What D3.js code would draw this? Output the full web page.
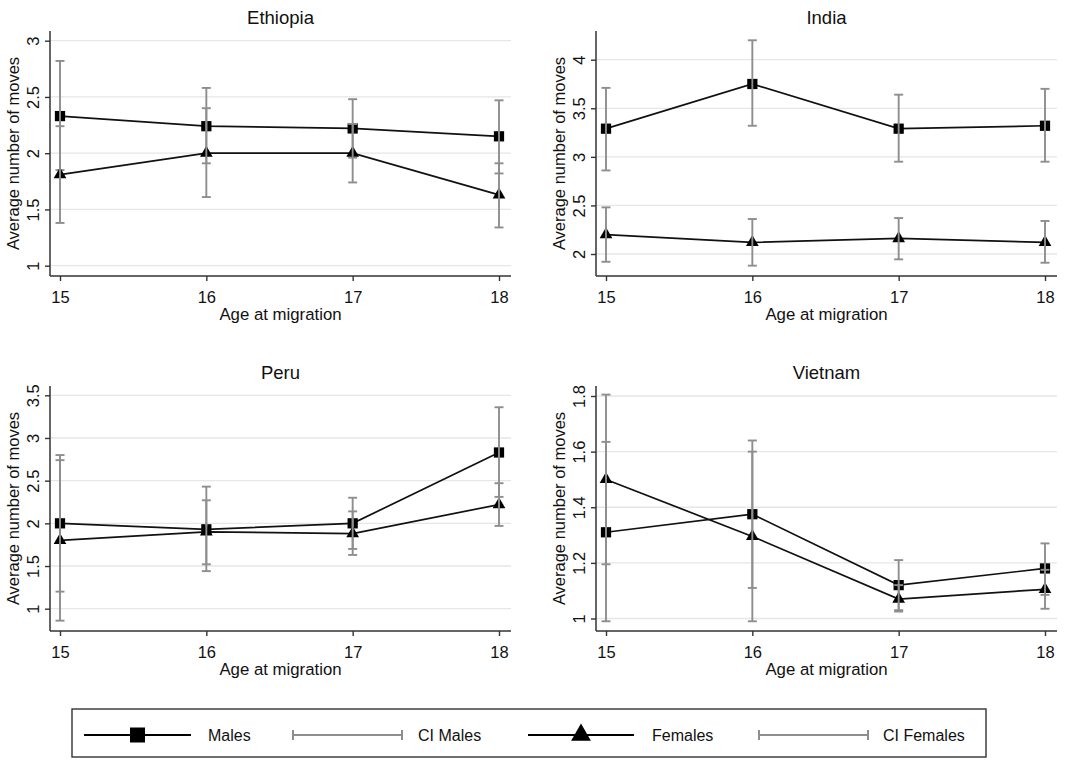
<!DOCTYPE html>
<html>
<head>
<meta charset="utf-8">
<script src="https://cdn.jsdelivr.net/npm/d3@7"></script>
<style>
  html, body { margin: 0; padding: 0; background: #fff; }
  svg { display: block; font-family: "Liberation Sans", Arial, sans-serif; }
</style>
</head>
<body>
<svg id="chart" width="1067" height="760"></svg>
<script>
// ---------------- DATA ----------------
const ages = [15, 16, 17, 18];
const countries = ["Ethiopia", "India", "Peru", "Vietnam"];

const ethiopiaMales     = [2.33, 2.24, 2.22, 2.15];
const ethiopiaMalesLo   = [1.85, 1.91, 1.96, 1.82];
const ethiopiaMalesHi   = [2.82, 2.58, 2.48, 2.47];
const ethiopiaFemales   = [1.81, 2.00, 2.00, 1.63];
const ethiopiaFemalesLo = [1.38, 1.61, 1.74, 1.34];
const ethiopiaFemalesHi = [2.24, 2.40, 2.26, 1.91];
const ethiopiaTicks     = [1, 1.5, 2, 2.5, 3];

const indiaMales     = [3.29, 3.75, 3.29, 3.32];
const indiaMalesLo   = [2.86, 3.32, 2.95, 2.95];
const indiaMalesHi   = [3.71, 4.20, 3.64, 3.70];
const indiaFemales   = [2.20, 2.12, 2.16, 2.12];
const indiaFemalesLo = [1.92, 1.88, 1.945, 1.91];
const indiaFemalesHi = [2.48, 2.36, 2.37, 2.34];
const indiaTicks     = [2, 2.5, 3, 3.5, 4];

const peruMales     = [2.00, 1.93, 2.00, 2.83];
const peruMalesLo   = [1.20, 1.44, 1.70, 2.31];
const peruMalesHi   = [2.80, 2.43, 2.30, 3.36];
const peruFemales   = [1.80, 1.90, 1.88, 2.22];
const peruFemalesLo = [0.86, 1.52, 1.63, 1.97];
const peruFemalesHi = [2.74, 2.27, 2.14, 2.47];
const peruTicks     = [1, 1.5, 2, 2.5, 3, 3.5];

const vietnamMales     = [1.31, 1.375, 1.12, 1.18];
const vietnamMalesLo   = [0.99, 1.11, 1.03, 1.085];
const vietnamMalesHi   = [1.635, 1.64, 1.21, 1.27];
const vietnamFemales   = [1.50, 1.295, 1.07, 1.105];
const vietnamFemalesLo = [1.195, 0.99, 1.025, 1.035];
const vietnamFemalesHi = [1.805, 1.60, 1.12, 1.175];
const vietnamTicks     = [1, 1.2, 1.4, 1.6, 1.8];

const legendLabels = ["Males", "CI Males", "Females", "CI Females"];
const xLabel = "Age at migration";
const yLabel = "Average number of moves";

// ---------------- LAYOUT ----------------
const panels = [
  { name: countries[0], males: ethiopiaMales, mLo: ethiopiaMalesLo, mHi: ethiopiaMalesHi,
    females: ethiopiaFemales, fLo: ethiopiaFemalesLo, fHi: ethiopiaFemalesHi, ticks: ethiopiaTicks,
    axisX: 50, right: 511, x0: 60, x1: 499, top: 31, bottom: 276, yPix: [265.7, 40.7] },
  { name: countries[1], males: indiaMales, mLo: indiaMalesLo, mHi: indiaMalesHi,
    females: indiaFemales, fLo: indiaFemalesLo, fHi: indiaFemalesHi, ticks: indiaTicks,
    axisX: 596, right: 1057, x0: 606, x1: 1045, top: 31, bottom: 276, yPix: [254, 59.7] },
  { name: countries[2], males: peruMales, mLo: peruMalesLo, mHi: peruMalesHi,
    females: peruFemales, fLo: peruFemalesLo, fHi: peruFemalesHi, ticks: peruTicks,
    axisX: 50, right: 511, x0: 60, x1: 499, top: 386, bottom: 631, yPix: [608.7, 395.3] },
  { name: countries[3], males: vietnamMales, mLo: vietnamMalesLo, mHi: vietnamMalesHi,
    females: vietnamFemales, fLo: vietnamFemalesLo, fHi: vietnamFemalesHi, ticks: vietnamTicks,
    axisX: 596, right: 1057, x0: 606, x1: 1045, top: 386, bottom: 631, yPix: [618.5, 396] }
];

const CI_COLOR = "#8e8e8e";
const GRID_COLOR = "#e6e6e6";
const AXIS_COLOR = "#333";
const FONT = "Liberation Sans, Arial, sans-serif";

const svg = d3.select("#chart");
svg.append("rect").attr("width", 1067).attr("height", 760).attr("fill", "#fff");

const tri = d3.symbol().type(d3.symbolTriangle);
const sq = d3.symbol().type(d3.symbolSquare);

panels.forEach(p => {
  const g = svg.append("g");
  const x = d3.scaleLinear().domain([ages[0], ages[ages.length - 1]]).range([p.x0, p.x1]);
  const t = p.ticks;
  const y = d3.scaleLinear().domain([t[0], t[t.length - 1]]).range(p.yPix);

  // gridlines
  g.selectAll(".grid").data(t).join("line")
    .attr("x1", p.axisX).attr("x2", p.right)
    .attr("y1", d => y(d)).attr("y2", d => y(d))
    .attr("stroke", GRID_COLOR).attr("stroke-width", 1.3);

  // title
  g.append("text").attr("x", (p.axisX + p.right) / 2).attr("y", p.top - 14)
    .attr("text-anchor", "middle").attr("dominant-baseline", "central")
    .attr("font-size", 18.5).attr("fill", "#111").text(p.name);

  // y axis
  const ya = g.append("g").attr("transform", `translate(${p.axisX},0)`)
    .call(d3.axisLeft(y).tickValues(t).tickSize(5).tickSizeOuter(0).tickFormat(d3.format("~g")));
  ya.select(".domain").remove();
  ya.selectAll(".tick line").attr("stroke", AXIS_COLOR).attr("stroke-width", 1.4);
  ya.selectAll(".tick text")
    .attr("x", null).attr("dy", null)
    .attr("transform", "translate(-17,0) rotate(-90)")
    .attr("text-anchor", "middle").attr("dominant-baseline", "central")
    .attr("font-size", 16.5).attr("fill", "#111").attr("font-family", FONT);

  // x axis
  const xa = g.append("g").attr("transform", `translate(0,${p.bottom})`)
    .call(d3.axisBottom(x).tickValues(ages).tickSize(5).tickSizeOuter(0).tickFormat(d3.format("d")));
  xa.select(".domain").remove();
  xa.selectAll(".tick line").attr("stroke", AXIS_COLOR).attr("stroke-width", 1.4);
  xa.selectAll(".tick text").attr("y", 21).attr("dy", null)
    .attr("dominant-baseline", "central")
    .attr("font-size", 16.5).attr("fill", "#111").attr("font-family", FONT);

  // frame lines (left and bottom)
  g.append("line").attr("x1", p.axisX).attr("x2", p.axisX).attr("y1", p.top).attr("y2", p.bottom)
    .attr("stroke", AXIS_COLOR).attr("stroke-width", 1.5);
  g.append("line").attr("x1", p.axisX).attr("x2", p.right).attr("y1", p.bottom).attr("y2", p.bottom)
    .attr("stroke", AXIS_COLOR).attr("stroke-width", 1.5);

  // axis titles
  g.append("text").attr("x", (p.axisX + p.right) / 2).attr("y", p.bottom + 38.5)
    .attr("text-anchor", "middle").attr("dominant-baseline", "central")
    .attr("font-size", 16.8).attr("fill", "#111").text(xLabel);
  g.append("text")
    .attr("transform", `translate(${p.axisX - 37},${(p.top + p.bottom) / 2}) rotate(-90)`)
    .attr("text-anchor", "middle").attr("dominant-baseline", "central")
    .attr("font-size", 16.5).attr("fill", "#111").text(yLabel);

  const line = d3.line().x((d, i) => x(ages[i])).y(d => y(d));

  function drawSeries(vals, symbol) {
    g.append("path").datum(vals).attr("d", line)
      .attr("fill", "none").attr("stroke", "#111").attr("stroke-width", 1.7);
    g.selectAll(null).data(vals).join("path")
      .attr("transform", (d, i) => `translate(${x(ages[i])},${y(d)})`)
      .attr("d", symbol).attr("fill", "#000");
  }
  function drawCI(lo, hi) {
    const ci = g.append("g").attr("stroke", CI_COLOR).attr("stroke-width", 1.9).attr("fill", "none");
    ages.forEach((a, i) => {
      const cx = x(a);
      ci.append("line").attr("x1", cx).attr("x2", cx).attr("y1", y(lo[i])).attr("y2", y(hi[i]));
      ci.append("line").attr("x1", cx - 4.5).attr("x2", cx + 4.5).attr("y1", y(lo[i])).attr("y2", y(lo[i]));
      ci.append("line").attr("x1", cx - 4.5).attr("x2", cx + 4.5).attr("y1", y(hi[i])).attr("y2", y(hi[i]));
    });
  }
  drawSeries(p.males, sq.size(105));
  drawCI(p.mLo, p.mHi);
  drawSeries(p.females, tri.size(70));
  drawCI(p.fLo, p.fHi);
});

// ---------------- LEGEND ----------------
const lg = svg.append("g");
lg.append("rect").attr("x", 72).attr("y", 709).attr("width", 914).attr("height", 48)
  .attr("fill", "#fff").attr("stroke", "#333").attr("stroke-width", 1.4);
const ly = 735;
const legendItems = [
  { type: "sq",  x1: 84,  x2: 191, tx: 208 },
  { type: "ci",  x1: 293, x2: 402, tx: 418 },
  { type: "tri", x1: 528, x2: 634, tx: 652 },
  { type: "ci",  x1: 759, x2: 868, tx: 883 }
];
legendItems.forEach((it, i) => {
  if (it.type === "ci") {
    lg.append("line").attr("x1", it.x1).attr("x2", it.x2).attr("y1", ly).attr("y2", ly)
      .attr("stroke", CI_COLOR).attr("stroke-width", 2);
    [it.x1, it.x2].forEach(cx => lg.append("line").attr("x1", cx).attr("x2", cx)
      .attr("y1", ly - 5).attr("y2", ly + 5).attr("stroke", CI_COLOR).attr("stroke-width", 2));
  } else {
    lg.append("line").attr("x1", it.x1).attr("x2", it.x2).attr("y1", ly).attr("y2", ly)
      .attr("stroke", "#000").attr("stroke-width", 2.2);
    const cx = (it.x1 + it.x2) / 2;
    lg.append("path").attr("transform", `translate(${cx},${ly})`)
      .attr("d", it.type === "sq" ? sq.size(225)() : tri.size(170)()).attr("fill", "#000");
  }
  lg.append("text").attr("x", it.tx).attr("y", ly).attr("dominant-baseline", "central")
    .attr("font-size", 16).attr("fill", "#111").text(legendLabels[i]);
});
</script>
</body>
</html>
